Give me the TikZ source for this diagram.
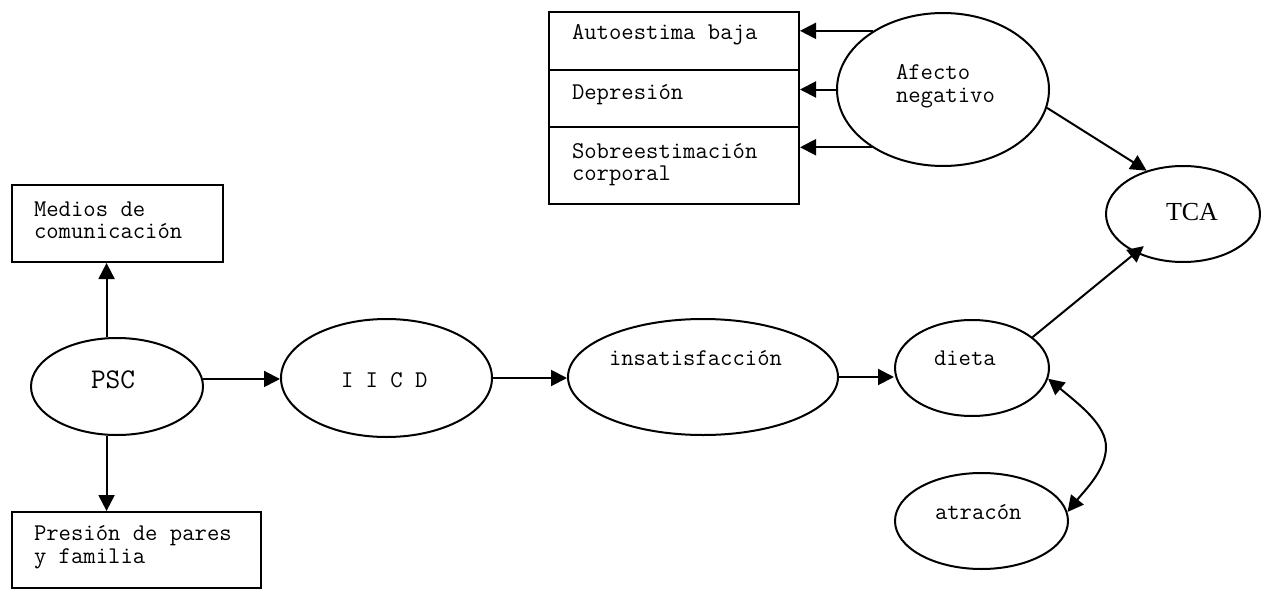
\documentclass[tikz,border=0pt]{standalone}
\usepackage{fontspec}
\newfontfamily\tcafont{Liberation Serif}
\usetikzlibrary{shapes.geometric,arrows.meta}

\begin{document}
\begin{tikzpicture}[x=0.75pt,y=-0.75pt,line width=1.5pt,
  sz/.style 2 args={minimum width=#1*0.75pt,minimum height=#2*0.75pt},
  oval/.style={draw,ellipse,inner sep=0pt},
  cell/.style={draw,rectangle,inner sep=0pt},
  lbl/.style={anchor=base west,inner sep=0pt,font=\ttfamily\fontsize{18}{20}\selectfont},
  arr/.style={-{Triangle[length=12pt,width=12pt]}},
  both/.style={{Triangle[length=12pt,width=12pt]}-{Triangle[length=12pt,width=12pt]}}]
\useasboundingbox (0,0) rectangle (1261,589);

% boxes on the left
\node[cell,sz={211}{77}] (medios) at (117.5,223.5) {};
\node[cell,sz={249}{76}] (presion) at (136.5,550) {};
\node[lbl] (medios1) at (33,216) {Medios de};
\node[lbl] (medios2) at (33,238) {comunicación};
\node[lbl] (presion1) at (33,540) {Presión de pares};
\node[lbl] (presion2) at (33,563) {y familia};

% stacked boxes at the top
\node[cell,sz={250}{58}] (aut) at (674,41) {};
\node[cell,sz={250}{57}] (dep) at (674,98.5) {};
\node[cell,sz={250}{77}] (sob) at (674,165.5) {};
\node[lbl] (aut1) at (571,40) {Autoestima baja};
\node[lbl] (dep1) at (571,99) {Depresión};
\node[lbl] (sob1) at (571,158) {Sobreestimación};
\node[lbl] (sob2) at (571,180) {corporal};

% ellipses
\node[oval,sz={172}{97}] (psc) at (117,386.5) {};
\node[oval,sz={211}{118}] (iicd) at (386.5,378) {};
\node[oval,sz={270}{116}] (insat) at (703,377) {};
\node[oval,sz={154}{96}] (dieta) at (972,368) {};
\node[oval,sz={173}{96}] (atr) at (981.5,521) {};
\node[oval,sz={154}{96}] (tca) at (1183,214) {};
\node[oval,sz={212}{153}] (afecto) at (943,89.5) {};

\node[lbl,font=\ttfamily\fontsize{21.4}{23}\selectfont] (psc1) at (90,388) {PSC};
\node[lbl] (iicd1) at (340,387) {I I C D};
\node[lbl] (insat1) at (608,365) {insatisfacción};
\node[lbl] (dieta1) at (933,365) {dieta};
\node[lbl] (atr1) at (934,519) {atracón};
\node[lbl,font=\tcafont\fontsize{19.5}{21}\selectfont] (tca1) at (1165,220) {TCA};
\node[lbl] (afecto1) at (895,79) {Afecto};
\node[lbl] (afecto2) at (895,102) {negativo};

% connectors
\draw[arr] (psc.258.4 |- psc.north) -- (psc.258.4 |- medios.south);
\draw[arr] (psc.258.4) -- (psc.258.4 |- presion.north);
\draw[arr] (psc.5.7) -- (psc.5.7 -| iicd.west);
\draw[arr] (iicd.east) -- (iicd.east -| insat.west);
\draw[arr] (insat.east) -- (insat.east -| dieta.west);
\draw[arr] (afecto.140.6) -- (afecto.140.6 -| aut.east);
\draw[arr] (afecto.west) -- (afecto.west -| dep.east);
\draw[arr] (afecto.219.4) -- (afecto.219.4 -| sob.east);
\draw[arr] (afecto.350) -- (tca.130);
\draw[arr,shorten >=-8pt] (dieta.27.8) -- (tca);
\draw[both] (dieta.352.6) .. controls (1080,405) and (1106,425) .. (1106,447)
  .. controls (1106,470) and (1085,490) .. (atr.6.6);
\end{tikzpicture}
\end{document}
